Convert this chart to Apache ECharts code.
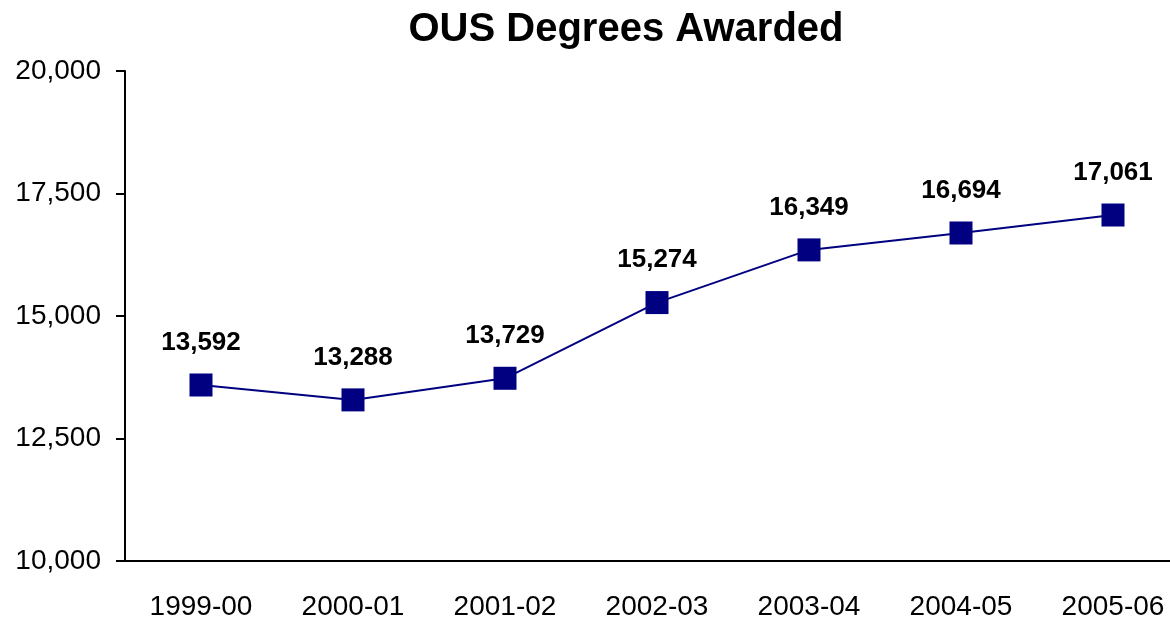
<!DOCTYPE html>
<html>
<head>
<meta charset="utf-8">
<script src="https://cdn.jsdelivr.net/npm/echarts@6/dist/echarts.min.js"></script>
<style>
  html, body { margin: 0; padding: 0; background: #fff; overflow: hidden; }
  #chart { width: 1189px; height: 627px; }
</style>
</head>
<body>
<div id="chart"></div>
<script>
const years = ['1999-00', '2000-01', '2001-02', '2002-03', '2003-04', '2004-05', '2005-06']
const degrees = [13592, 13288, 13729, 15274, 16349, 16694, 17061]
const yTicks = [10000, 12500, 15000, 17500, 20000]

const font = '"Liberation Sans", Arial, sans-serif'
const chart = echarts.init(document.getElementById('chart'))

chart.setOption({
  animation: false,
  title: {
    text: 'OUS Degrees Awarded',
    left: 621,
    textAlign: 'center',
    top: 5,
    textStyle: { fontFamily: font, fontSize: 40, fontWeight: 'bold', color: '#000' }
  },
  grid: { left: 125, right: 0, top: 71, bottom: 66, containLabel: false },
  xAxis: {
    type: 'category',
    data: years,
    boundaryGap: true,
    axisLine: { lineStyle: { color: '#000', width: 2 } },
    axisTick: { show: false },
    axisLabel: { color: '#000', fontFamily: font, fontSize: 28, margin: 32, interval: 0 }
  },
  yAxis: {
    type: 'value',
    min: yTicks[0],
    max: yTicks[yTicks.length - 1],
    interval: 2500,
    splitLine: { show: false },
    axisLine: { show: true, lineStyle: { color: '#000', width: 2 } },
    axisTick: { show: true, length: 9, lineStyle: { color: '#000', width: 2 } },
    axisLabel: {
      color: '#000',
      fontFamily: font,
      fontSize: 28,
      margin: 24,
      formatter: v => v.toLocaleString('en-US')
    }
  },
  series: [
    {
      name: 'Degrees',
      type: 'line',
      data: degrees,
      symbol: 'rect',
      symbolSize: 23,
      itemStyle: { color: '#000080' },
      lineStyle: { color: '#000080', width: 2 },
      label: {
        show: true,
        position: 'top',
        distance: 18,
        color: '#000',
        fontFamily: font,
        fontSize: 26,
        fontWeight: 'bold',
        formatter: p => p.value.toLocaleString('en-US')
      }
    }
  ]
})
</script>
</body>
</html>
